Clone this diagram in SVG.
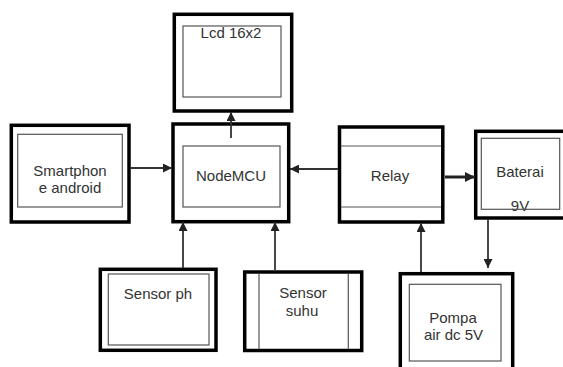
<svg xmlns="http://www.w3.org/2000/svg" width="563" height="367" viewBox="0 0 563 367">
<style>
.outer{fill:#fff;stroke:#000;stroke-width:3.5}
.inner{fill:#fff;stroke:#555;stroke-width:1.2}
.ln{stroke:#555;stroke-width:1.2;fill:none}
.t{font-family:"Liberation Sans",Arial,sans-serif;font-size:15px;fill:#333;text-anchor:middle}
.c{stroke:#333;stroke-width:1.8;fill:none;marker-end:url(#ah)}
.cb{stroke:#222;stroke-width:3;fill:none;marker-end:url(#ahb)}
</style>
<defs>
<marker id="ah" markerUnits="userSpaceOnUse" markerWidth="9" markerHeight="9" refX="9" refY="4.5" orient="auto">
<path d="M0,0 L9,4.5 L0,9 z" fill="#222"/>
</marker>
<marker id="ahb" markerUnits="userSpaceOnUse" markerWidth="10" markerHeight="10" refX="10" refY="5" orient="auto">
<path d="M0,0 L10,5 L0,10 z" fill="#222"/>
</marker>
</defs>
<rect width="563" height="367" fill="#fff"/>
<g id="lcd">
<rect class="outer" x="174.3" y="14.3" width="117.4" height="96.7"/>
<rect class="inner" x="183" y="26" width="98" height="71"/>
<text class="t" x="231" y="38">Lcd 16x2</text>
</g>
<g id="smartphone">
<rect class="outer" x="11.3" y="125.3" width="117.7" height="96.7"/>
<rect class="inner" x="17.7" y="134.3" width="104.6" height="72.7"/>
<text class="t" x="70" y="176">Smartphon</text>
<text class="t" x="70" y="193">e android</text>
</g>
<g id="nodemcu">
<rect class="outer" x="173" y="124" width="115.7" height="97.7"/>
<rect class="inner" x="183" y="146" width="97" height="61"/>
<text class="t" x="231" y="181">NodeMCU</text>
</g>
<g id="relay">
<rect class="outer" x="339.5" y="127" width="103.3" height="95"/>
<line class="ln" x1="341" y1="146" x2="441" y2="146"/>
<line class="ln" x1="341" y1="207" x2="441" y2="207"/>
<text class="t" x="390" y="181">Relay</text>
</g>
<g id="baterai">
<rect class="outer" x="475.7" y="131.3" width="92" height="86.7"/>
<text class="t" x="520" y="177">Baterai</text>
<text class="t" x="520" y="211">9V</text>
<rect class="inner" x="481.3" y="138.3" width="78.4" height="71" style="fill:none"/>
</g>
<g id="sensor-ph">
<rect class="outer" x="100.3" y="269.3" width="115.7" height="81"/>
<rect class="inner" x="108.3" y="274" width="100.7" height="71"/>
<text class="t" x="158" y="299">Sensor ph</text>
</g>
<g id="sensor-suhu">
<rect class="outer" x="244.7" y="272" width="117" height="78.5"/>
<line class="ln" x1="259" y1="274" x2="259" y2="349"/>
<line class="ln" x1="348.3" y1="274" x2="348.3" y2="349"/>
<text class="t" x="303" y="298">Sensor</text>
<text class="t" x="302" y="316">suhu</text>
</g>
<g id="pompa">
<rect class="outer" x="400.3" y="273.7" width="112.4" height="100"/>
<rect class="inner" x="409.3" y="284.3" width="91.7" height="76.7"/>
<text class="t" x="453" y="323">Pompa</text>
<text class="t" x="453.5" y="340">air dc 5V</text>
</g>
<g id="connectors">
<line class="c" x1="231" y1="138" x2="231" y2="112"/>
<line class="c" x1="130" y1="168" x2="172" y2="168"/>
<line class="c" x1="338" y1="169" x2="290" y2="169"/>
<line class="cb" x1="445" y1="177" x2="475" y2="177"/>
<line class="c" x1="183" y1="268" x2="183" y2="222"/>
<line class="c" x1="275" y1="270" x2="275" y2="222"/>
<line class="c" x1="421" y1="272" x2="421" y2="223"/>
<line class="c" x1="488" y1="219" x2="488" y2="268"/>
</g>
</svg>
